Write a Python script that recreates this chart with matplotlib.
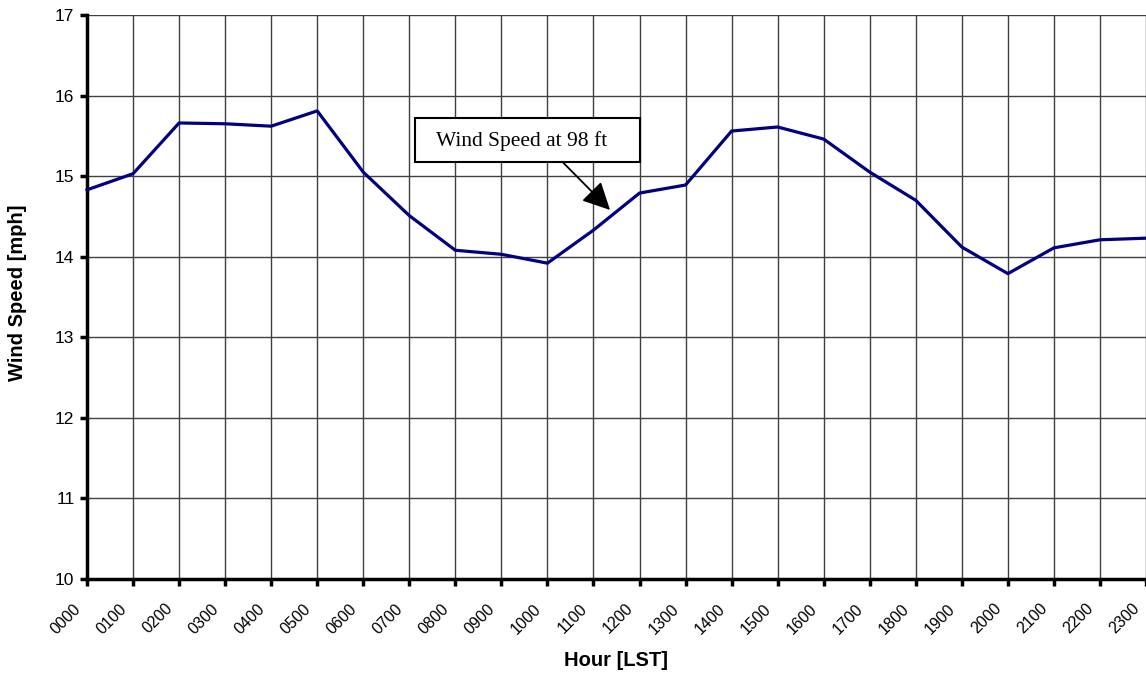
import matplotlib
matplotlib.use("Agg")
import matplotlib.pyplot as plt
from matplotlib.patches import Rectangle
from matplotlib.transforms import ScaledTranslation

hours = ["0000", "0100", "0200", "0300", "0400", "0500", "0600", "0700",
         "0800", "0900", "1000", "1100", "1200", "1300", "1400", "1500",
         "1600", "1700", "1800", "1900", "2000", "2100", "2200", "2300"]
wind_speed = [14.83, 15.03, 15.66, 15.65, 15.62, 15.81, 15.05, 14.51,
              14.08, 14.03, 13.92, 14.33, 14.79, 14.89, 15.56, 15.61,
              15.46, 15.05, 14.70, 14.12, 13.79, 14.11, 14.21, 14.23]
y_ticks = [10, 11, 12, 13, 14, 15, 16, 17]

plt.rcParams['font.family'] = ['Liberation Sans', 'DejaVu Sans']

fig = plt.figure(figsize=(11.46, 6.73), dpi=100)
ax = fig.add_axes([87/1146, 1 - 579/673, 1 - 87/1146, (579 - 15)/673])

x = list(range(len(hours)))
ax.plot(x, wind_speed, color='#000080', lw=2.3, zorder=3, clip_on=False)

ax.set_xlim(0, 23)
ax.set_ylim(10, 17)

ax.grid(True, color='#404040', lw=1.0)
ax.set_axisbelow(True)

for s in ['top', 'right']:
    ax.spines[s].set_visible(False)
for s in ['left', 'bottom']:
    ax.spines[s].set_linewidth(2.5)
    ax.spines[s].set_color('black')
ax.tick_params(axis='both', direction='out', length=5, width=2.5, color='black')
ax.tick_params(axis='x', pad=6)
ax.tick_params(axis='y', pad=4)

ax.set_xticks(x)
ax.set_xticklabels(hours, rotation=45, ha='right', va='center',
                   rotation_mode='anchor', fontsize=11.5)
ax.set_yticks(y_ticks)
ax.set_yticklabels([str(v) for v in y_ticks], fontsize=12.5)

offset = ScaledTranslation(-9/100, -12/100, fig.dpi_scale_trans)
for tick in ax.xaxis.get_major_ticks():
    tick.label1.set_transform(tick.label1.get_transform() + offset)

ax.set_xlabel("Hour [LST]", fontsize=14.5, fontweight='bold')
ax.xaxis.label.set_va('center')
ax.xaxis.set_label_coords((616 - 87)/1059, -(660 - 579)/564)
ax.set_ylabel("Wind Speed [mph]", fontsize=14.5, fontweight='bold')
ax.yaxis.label.set_va('center')
ax.yaxis.set_label_coords(-(87 - 18)/1059, (579 - 292.5)/564)

# callout box
ax.add_patch(Rectangle((7.12, 15.18), 4.89, 0.54, fc='white', ec='black',
                       lw=1.5, zorder=5))
ax.text(9.45, 15.44, "Wind Speed at 98 ft", ha='center', va='center',
        fontsize=15.5, family=['Liberation Serif', 'DejaVu Serif'], zorder=6)
ax.annotate("", xy=(11.36, 14.58), xytext=(10.32, 15.18),
            arrowprops=dict(arrowstyle='-|>,head_length=0.6,head_width=0.3',
                            color='black', lw=1.3,
                            mutation_scale=28, shrinkA=0, shrinkB=0),
            zorder=6)

fig.savefig("out.png", dpi=100)
